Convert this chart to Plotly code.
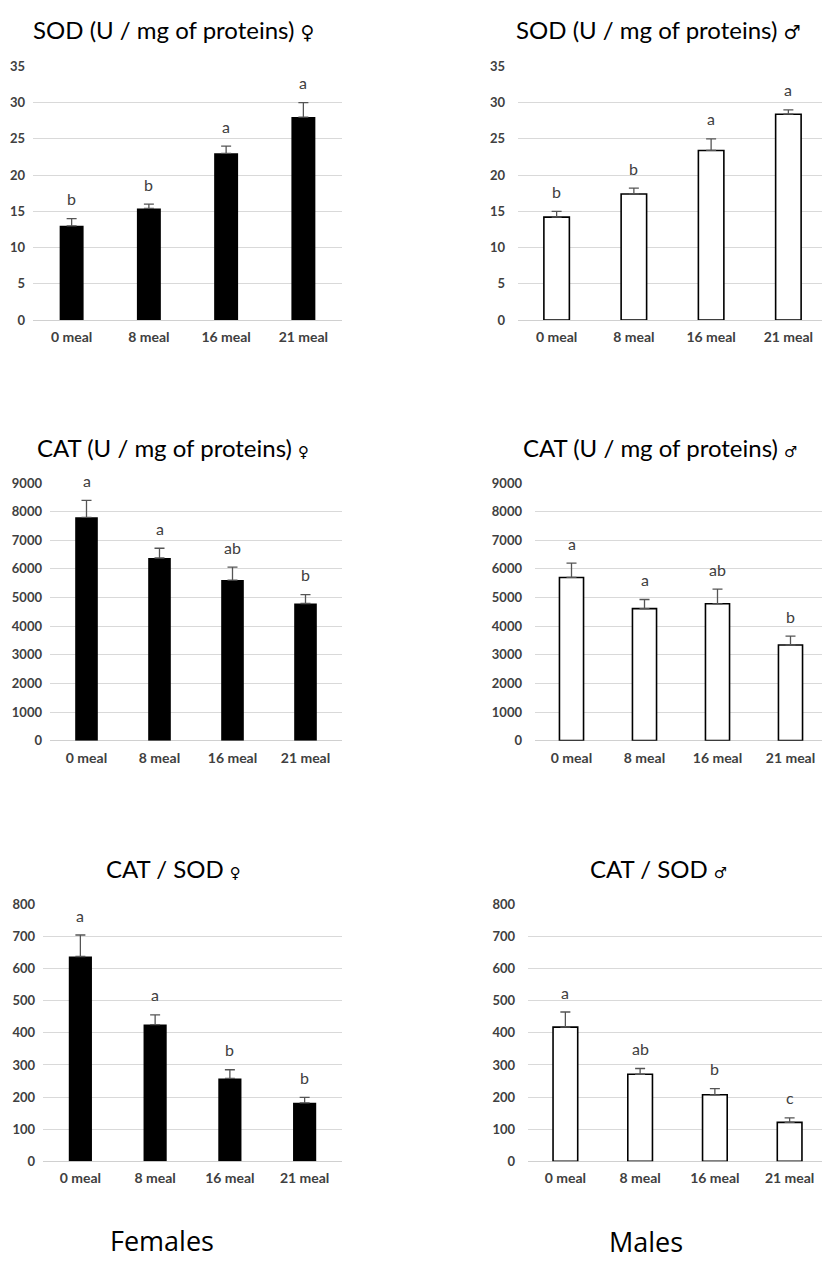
import plotly.graph_objects as go

# ------------------------------------------------------------------
# data
# ------------------------------------------------------------------
categorias = ['0 meal', '8 meal', '16 meal', '21 meal']

sod_femea = [13.0, 15.4, 23.0, 28.0]
sod_femea_err = [1.0, 0.6, 1.0, 2.0]
sod_femea_letras = ['b', 'b', 'a', 'a']

sod_macho = [14.2, 17.4, 23.4, 28.4]
sod_macho_err = [0.8, 0.8, 1.6, 0.6]
sod_macho_letras = ['b', 'b', 'a', 'a']

cat_femea = [7800, 6380, 5610, 4790]
cat_femea_err = [590, 340, 450, 310]
cat_femea_letras = ['a', 'a', 'ab', 'b']

cat_macho = [5700, 4610, 4780, 3340]
cat_macho_err = [500, 320, 510, 310]
cat_macho_letras = ['a', 'a', 'ab', 'b']

razao_femea = [638, 426, 258, 182]
razao_femea_err = [67, 30, 27, 17]
razao_femea_letras = ['a', 'a', 'b', 'b']

razao_macho = [418, 271, 207, 121]
razao_macho_err = [47, 18, 19, 14]
razao_macho_letras = ['a', 'ab', 'b', 'c']

titulos = ['SOD (U / mg of proteins)', 'SOD (U / mg of proteins)',
           'CAT (U / mg of proteins)', 'CAT (U / mg of proteins)',
           'CAT / SOD', 'CAT / SOD']
simbolos = ['♀', '♂', '♀', '♂', '♀', '♂']
y_max = [35, 35, 9000, 9000, 800, 800]
y_dtick = [5, 5, 1000, 1000, 100, 100]
grupos = ['Females', 'Males']

paineis = [
    (sod_femea, sod_femea_err, sod_femea_letras),
    (sod_macho, sod_macho_err, sod_macho_letras),
    (cat_femea, cat_femea_err, cat_femea_letras),
    (cat_macho, cat_macho_err, cat_macho_letras),
    (razao_femea, razao_femea_err, razao_femea_letras),
    (razao_macho, razao_macho_err, razao_macho_letras),
]

# ------------------------------------------------------------------
# geometry: pixel positions in the reference page (830 x 1271);
# the html body keeps an 8px margin, so the figure is smaller and offset
# ------------------------------------------------------------------
OFF = 8
W, H = 830 - OFF, 1271 - 2 * OFF
x_px = [(33, 342), (518, 827), (50, 342), (535, 827), (43, 342), (528, 827)]
y_px = [(59, 316), (59, 316), (481, 742), (481, 742), (908, 1168), (908, 1168)]
titulo_px = [(173, 22), (658, 22), (173, 445), (660, 445), (173, 872), (658, 872)]
simb_tam = [19, 19, 15, 15, 15, 15]
standoff = [7, 12, 7, 12, 7, 12]
grupo_px = [(162, 1248), (646, 1249)]


def px(x):
    return (x - OFF) / W


def py(y):
    return 1 - (y - OFF) / H


FONTE = 'Lato'
CINZA = '#404040'

fig = go.Figure()
layout = {}
anots = []

for i, (medias, erros, letras) in enumerate(paineis):
    n = '' if i == 0 else str(i + 1)
    femea = (i % 2 == 0)

    fig.add_trace(go.Bar(
        x=categorias, y=medias,
        xaxis='x' + n, yaxis='y' + n,
        width=0.31 if femea else 0.33,
        marker=dict(color='black' if femea else 'white',
                    line=dict(color='black', width=0 if femea else 1.6)),
        error_y=dict(type='data', array=erros, arrayminus=[0] * 4,
                     symmetric=False, color='#555555', thickness=1.3, width=5),
        showlegend=False))

    x0, x1 = x_px[i]
    yt, yb = y_px[i]
    layout['xaxis' + n] = dict(
        domain=[px(x0), min(px(x1), 1)], anchor='y' + n,
        range=[-0.5, 3.5], showgrid=False, zeroline=False,
        showline=False, ticks='', ticklabelstandoff=7,
        tickfont=dict(family=FONTE, size=14, color=CINZA, weight='bold'))
    layout['yaxis' + n] = dict(
        domain=[py(yb), py(yt)], anchor='x' + n,
        range=[0, y_max[i]], dtick=y_dtick[i], tick0=0,
        showgrid=True, gridcolor='#d9d9d9', gridwidth=1,
        zeroline=True, zerolinecolor='#d0d0d0', zerolinewidth=1.2,
        showline=False, ticks='', ticklabelstandoff=standoff[i],
        tickfont=dict(family=FONTE, size=13, color=CINZA, weight='bold'))

    # letras de significancia
    for c, m, e, l in zip(categorias, medias, erros, letras):
        anots.append(dict(x=c, y=m + e, xref='x' + n, yref='y' + n,
                          text=l, showarrow=False, yanchor='middle', yshift=20,
                          font=dict(family=FONTE, size=16, color=CINZA)))

    tx, ty = titulo_px[i]
    texto = (titulos[i] + ' <span style="font-family:DejaVu Sans;font-size:%dpx">%s</span>'
             % (simb_tam[i], simbolos[i]))
    anots.append(dict(x=px(tx), y=py(ty), xref='paper', yref='paper',
                      text=texto, showarrow=False,
                      xanchor='center', yanchor='middle',
                      font=dict(family=FONTE, size=24, color='black')))

for g, (gx, gy) in zip(grupos, grupo_px):
    anots.append(dict(x=px(gx), y=py(gy), xref='paper', yref='paper',
                      text=g, showarrow=False, xanchor='center', yanchor='middle',
                      font=dict(family='Open Sans', size=27, color='black')))

fig.update_layout(**layout)
fig.update_layout(
    width=W, height=H,
    margin=dict(l=0, r=0, t=0, b=0),
    paper_bgcolor='white', plot_bgcolor='white',
    annotations=anots,
    bargap=0.68)

fig.write_html('out.html')
